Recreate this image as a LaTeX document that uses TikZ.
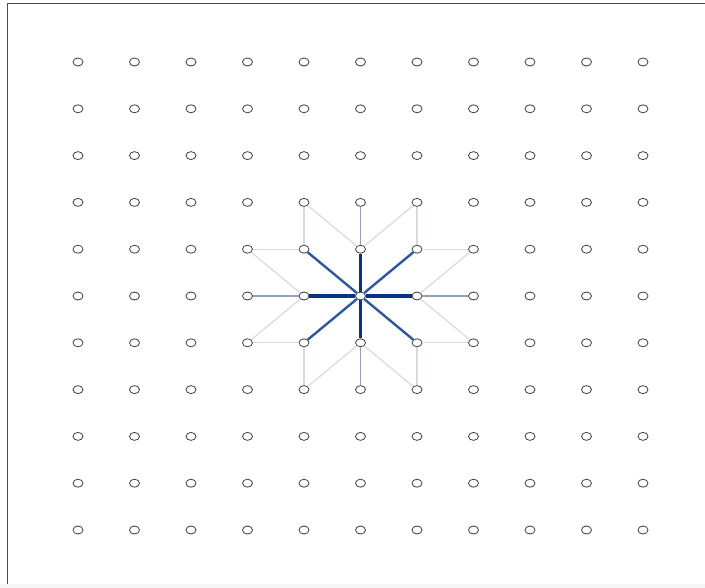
\documentclass[tikz,border=0pt]{standalone}
\usepackage{tikz}
\usetikzlibrary{shapes.geometric}
\definecolor{edgeA}{RGB}{10,52,130}
\definecolor{edgeB}{RGB}{45,88,158}
\definecolor{edgeC}{RGB}{145,160,188}
\definecolor{edgeD}{RGB}{214,218,225}
\tikzset{
  vtx/.style={ellipse,draw=black!75,fill=white,line width=0.8pt,
    minimum width=10pt,minimum height=8pt,inner sep=0pt},
  orth/.style={edgeA,line width=3.4pt},
  diag/.style={edgeB,line width=2.4pt},
  far/.style={edgeC,line width=1.6pt},
  side/.style={edgeD,line width=1.2pt}
}
\begin{document}
\begin{tikzpicture}[x=1pt,y=-1pt]
\useasboundingbox (0,0) rectangle (705,588);
\fill[black!3] (0,584) rectangle (705,588);
\draw[black!70,line width=1pt] (7,584) -- (7,4) -- (705,4);

% grid of points
\foreach \i in {0,...,10}
  \foreach \j in {0,...,10}
    \node[vtx] (p-\i-\j) at ({78+56.5*\i},{62+46.8*\j}) {};

% outer ring
\foreach \a/\b in {5-4/5-3, 5-6/5-7, 4-5/3-5, 6-5/7-5}
  \draw[far] (p-\a) -- (p-\b);
\foreach \a/\b in {5-4/4-3, 5-4/6-3, 5-6/4-7, 5-6/6-7,
                   4-5/3-4, 4-5/3-6, 6-5/7-4, 6-5/7-6,
                   4-4/4-3, 4-4/3-4, 6-4/6-3, 6-4/7-4,
                   4-6/4-7, 4-6/3-6, 6-6/6-7, 6-6/7-6}
  \draw[side] (p-\a) -- (p-\b);

% centre star
\foreach \b in {4-4, 6-4, 4-6, 6-6}
  \draw[diag] (p-5-5) -- (p-\b);
\foreach \b in {5-4, 5-6, 4-5, 6-5}
  \draw[orth] (p-5-5) -- (p-\b);
\end{tikzpicture}
\end{document}
